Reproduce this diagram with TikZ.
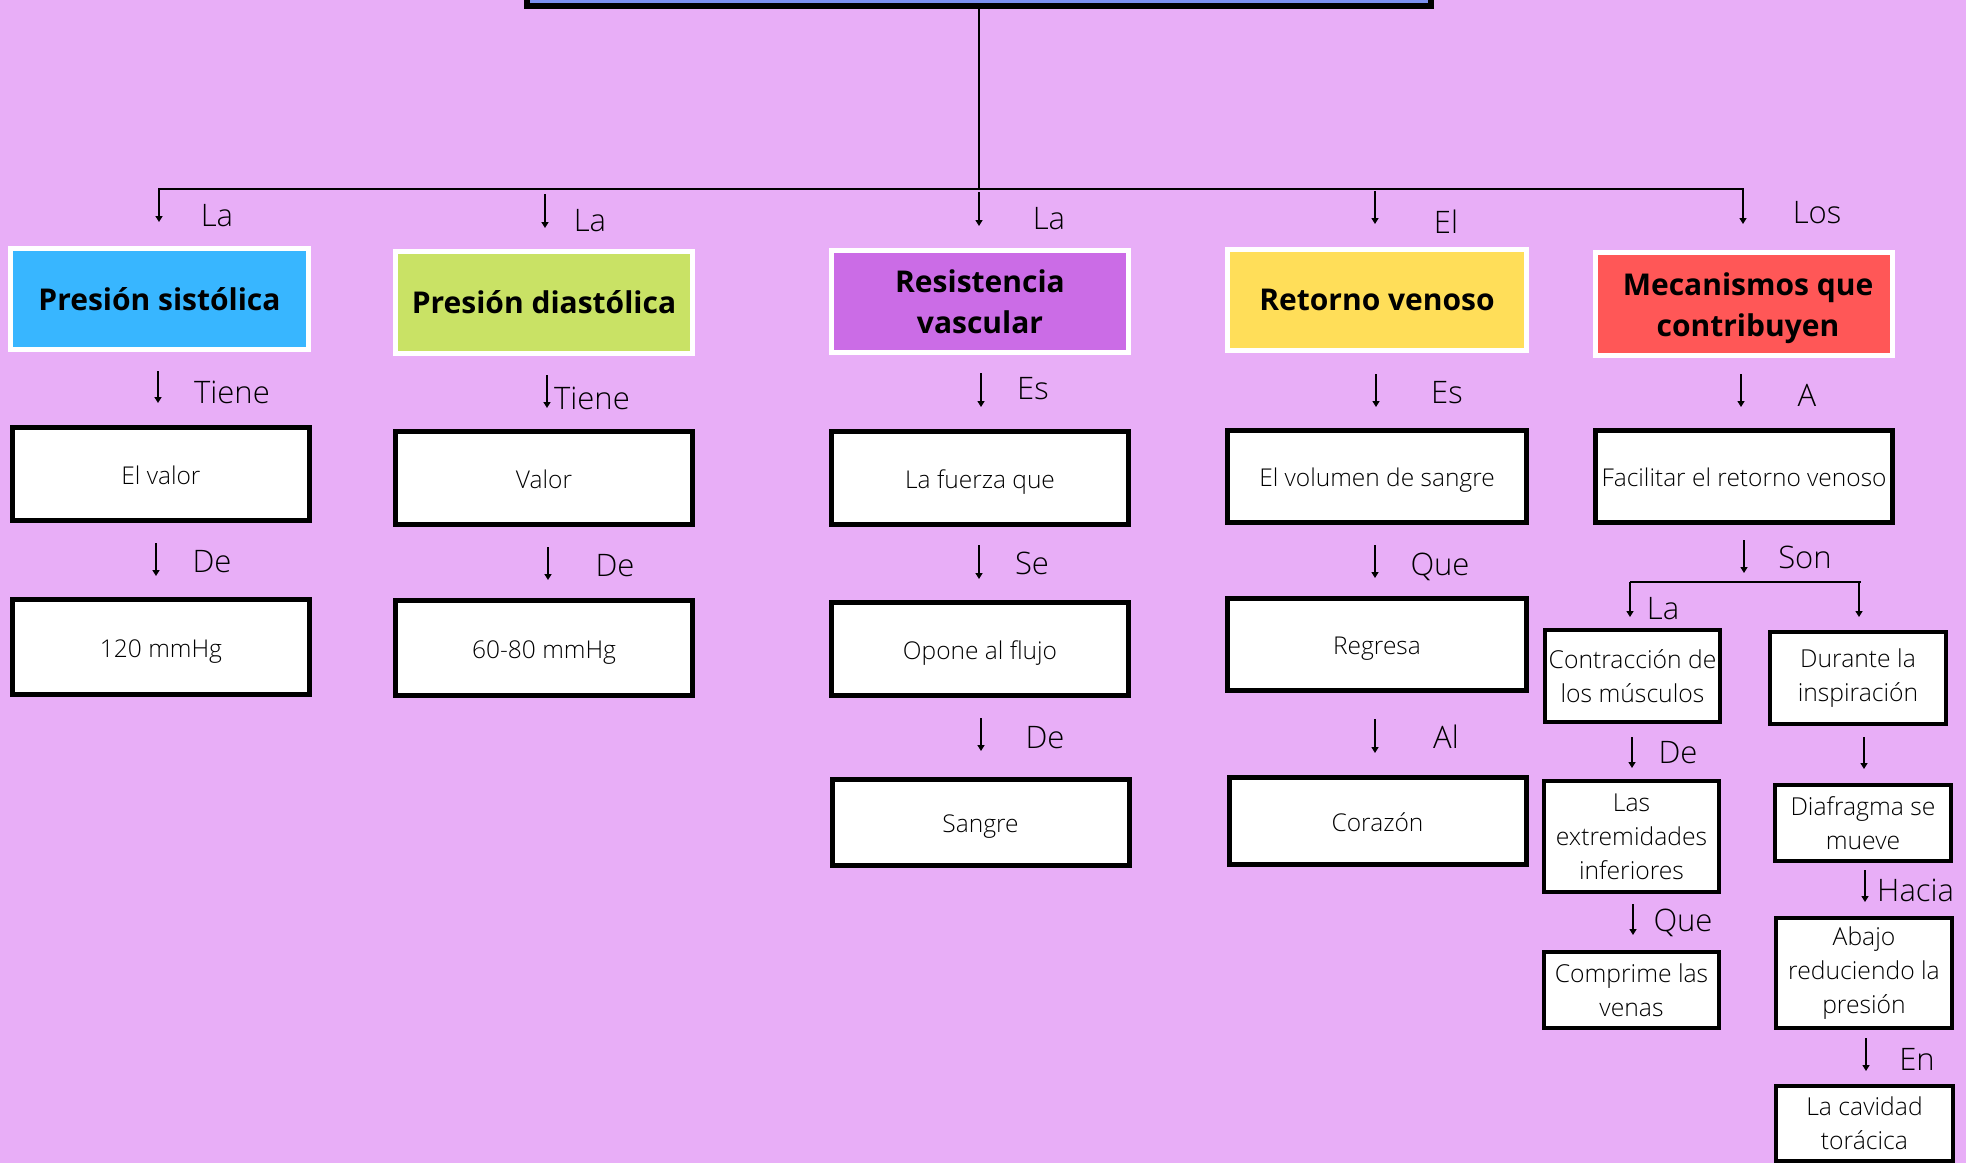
\documentclass[tikz,border=0pt]{standalone}
\usepackage{fontspec}
% light weight for ordinary text when available, regular otherwise
\IfFontExistsTF{Open Sans Light}
  {\setmainfont{Open Sans Light}}
  {\setmainfont{Open Sans}}
\newfontfamily\negrita{Open Sans}
\usetikzlibrary{arrows.meta}

\definecolor{fondo}{HTML}{E8AEF7}
\definecolor{titulofill}{HTML}{7C90F0}
\definecolor{cazul}{HTML}{38B6FF}
\definecolor{clima}{HTML}{C9E265}
\definecolor{cmorado}{HTML}{CB6CE6}
\definecolor{camarillo}{HTML}{FFDE59}
\definecolor{crojo}{HTML}{FF5757}

\tikzset{
  lbl/.style={inner sep=0pt, font=\fontsize{31}{36}\selectfont},
  hdrtext/.style={inner sep=0pt, align=center,
              font=\negrita\bfseries\fontsize{30}{41}\selectfont},
  hdr/.style={hdrtext, draw=white, line width=5pt,
              minimum width=297pt, minimum height=102pt},
  bigbox/.style={draw=black, fill=white, line width=5pt, inner sep=0pt,
                 minimum width=297pt, minimum height=93pt,
                 text height=27pt, text depth=7pt,
                 font=\fontsize{24.5}{30}\selectfont},
  smallbox/.style={draw=black, fill=white, line width=4pt, inner sep=0pt,
                   align=center, minimum width=176pt,
                   font=\fontsize{24.7}{34}\selectfont},
  arr/.style={line width=1.8pt, -{Triangle[length=6pt,width=7pt]}},
  link/.style={line width=1.8pt}
}

\begin{document}
\begin{tikzpicture}[x=1pt,y=-1pt]
  % page and background
  \useasboundingbox (0,0) rectangle (1966,1163);
  \fill[fondo] (0,0) rectangle (1966,1163);

  % title box (only its lower edge lies on the page)
  \node[draw=black, fill=titulofill, line width=6pt, inner sep=0pt,
        minimum width=904pt, minimum height=80pt] (titulo) at (979,-34) {};

  % trunk and first-level branches
  \draw[link] (titulo.south) -- (979,189) coordinate (nudo);
  \draw[arr] (nudo) -| (159,222);
  \draw[arr] (nudo) -| (1743,224);
  \draw[arr] (545,194) -- (545,228);
  \draw[arr] (979,192) -- (979,226);
  \draw[arr] (1375,191) -- (1375,224);

  \node[lbl] (l11) at (217,216) {La};
  \node[lbl] (l12) at (590,221) {La};
  \node[lbl] (l13) at (1049,219) {La};
  \node[lbl] (l14) at (1446,222) {El};
  \node[lbl] (l15) at (1817,213) {Los};

  % header boxes
  \node[hdr, fill=cazul, minimum width=298pt, minimum height=101pt] (h1) at (159.5,299) {Presión sistólica};
  \node[hdr, fill=clima] (h2) at (544,302.5) {Presión diastólica};
  \node[hdr, fill=cmorado] (h3) at (980,301.5) {Resistencia\\vascular};
  \node[hdr, fill=camarillo, minimum width=299pt, minimum height=101pt] (h4) at (1377,300) {Retorno venoso};
  \node[hdr, fill=crojo, minimum height=103pt] (h5) at (1744,304) {};
  \node[hdrtext] (h5t) at ([shift={(4,4)}]h5.center) {Mecanismos que\\contribuyen};

  % second row
  \draw[arr] (158,371) -- (158,403);
  \draw[arr] (547,375) -- (547,408);
  \draw[arr] (981,373) -- (981,407);
  \draw[arr] (1376,374) -- (1376,407);
  \draw[arr] (1741,374) -- (1741,407);

  \node[lbl] (l21) at (232,392) {Tiene};
  \node[lbl, anchor=west] (l22) at (554,398) {Tiene};
  \node[lbl] (l23) at (1033,389) {Es};
  \node[lbl] (l24) at (1447,393) {Es};
  \node[lbl] (l25) at (1807,395) {A};

  \node[bigbox] (b21) at (161,474) {El valor};
  \node[bigbox] (b22) at (544,478) {Valor};
  \node[bigbox] (b23) at (980,478) {La fuerza que};
  \node[bigbox, minimum width=299pt, minimum height=92pt] (b24) at (1377,476.5) {El volumen de sangre};
  \node[bigbox, minimum height=92pt] (b25) at (1744,476.5) {Facilitar el retorno venoso};

  % third row
  \draw[arr] (156,543) -- (156,576);
  \draw[arr] (548,547) -- (548,580);
  \draw[arr] (979,545) -- (979,579);
  \draw[arr] (1375,545) -- (1375,578);
  \draw[arr] (1744,540) -- (1744,573);

  \node[lbl] (l31) at (212,562) {De};
  \node[lbl] (l32) at (615,566) {De};
  \node[lbl] (l33) at (1032,563) {Se};
  \node[lbl] (l34) at (1440,567) {Que};
  \node[lbl] (l35) at (1805,557) {Son};

  \node[bigbox, minimum height=95pt] (b31) at (161,647) {120 mmHg};
  \node[bigbox, minimum height=95pt] (b32) at (544,648) {60-80 mmHg};
  \node[bigbox] (b33) at (980,649) {Opone al flujo};
  \node[bigbox, minimum width=299pt, minimum height=92pt] (b34) at (1377,644.5) {Regresa};

  % fourth row
  \draw[arr] (981,718) -- (981,751);
  \draw[arr] (1375,719) -- (1375,753);
  \node[lbl] (l41) at (1045,738) {De};
  \node[lbl] (l42) at (1446,737) {Al};

  \node[bigbox, minimum height=86pt] (b41) at (980.5,822.5) {Sangre};
  \node[bigbox, minimum height=87pt] (b42) at (1377.5,821) {Corazón};

  % mechanisms: two branches
  \draw[link] (1630,582) -- (1861,582);
  \draw[arr] (1630,582) -- (1630,617);
  \draw[arr] (1859,582) -- (1859,617);
  \node[lbl] (lm0) at (1663,609) {La};

  \node[smallbox, minimum width=175pt, minimum height=92pt] (m1) at (1632.5,676) {Contracción de\\los músculos};
  \node[smallbox, minimum height=92pt] (n1) at (1858,678) {Durante la\\inspiración};

  \draw[arr] (1632,737) -- (1632,768);
  \node[lbl] (lm1) at (1678,753) {De};
  \draw[arr] (1864,737) -- (1864,769);

  \node[smallbox, minimum width=175pt, minimum height=111pt] (m2) at (1631.5,836.5) {Las\\extremidades\\inferiores};
  \node[smallbox, minimum height=76pt] (n2) at (1863,823) {Diafragma se\\mueve};

  \draw[arr] (1633,904) -- (1633,935);
  \node[lbl] (lm2) at (1683,923) {Que};
  \draw[arr] (1865,870) -- (1865,902);
  \node[lbl, anchor=west] (ln2) at (1877,890) {Hacia};

  \node[smallbox, minimum width=175pt, minimum height=76pt] (m3) at (1631.5,990) {Comprime las\\venas};
  \node[smallbox, minimum height=110pt] (n3) at (1864,973) {Abajo\\reduciendo la\\presión};

  \draw[arr] (1866,1038) -- (1866,1071);
  \node[lbl] (ln3) at (1917,1059) {En};

  \node[smallbox, minimum width=177pt, minimum height=75pt] (n4) at (1864.5,1123) {La cavidad\\torácica};
\end{tikzpicture}
\end{document}
